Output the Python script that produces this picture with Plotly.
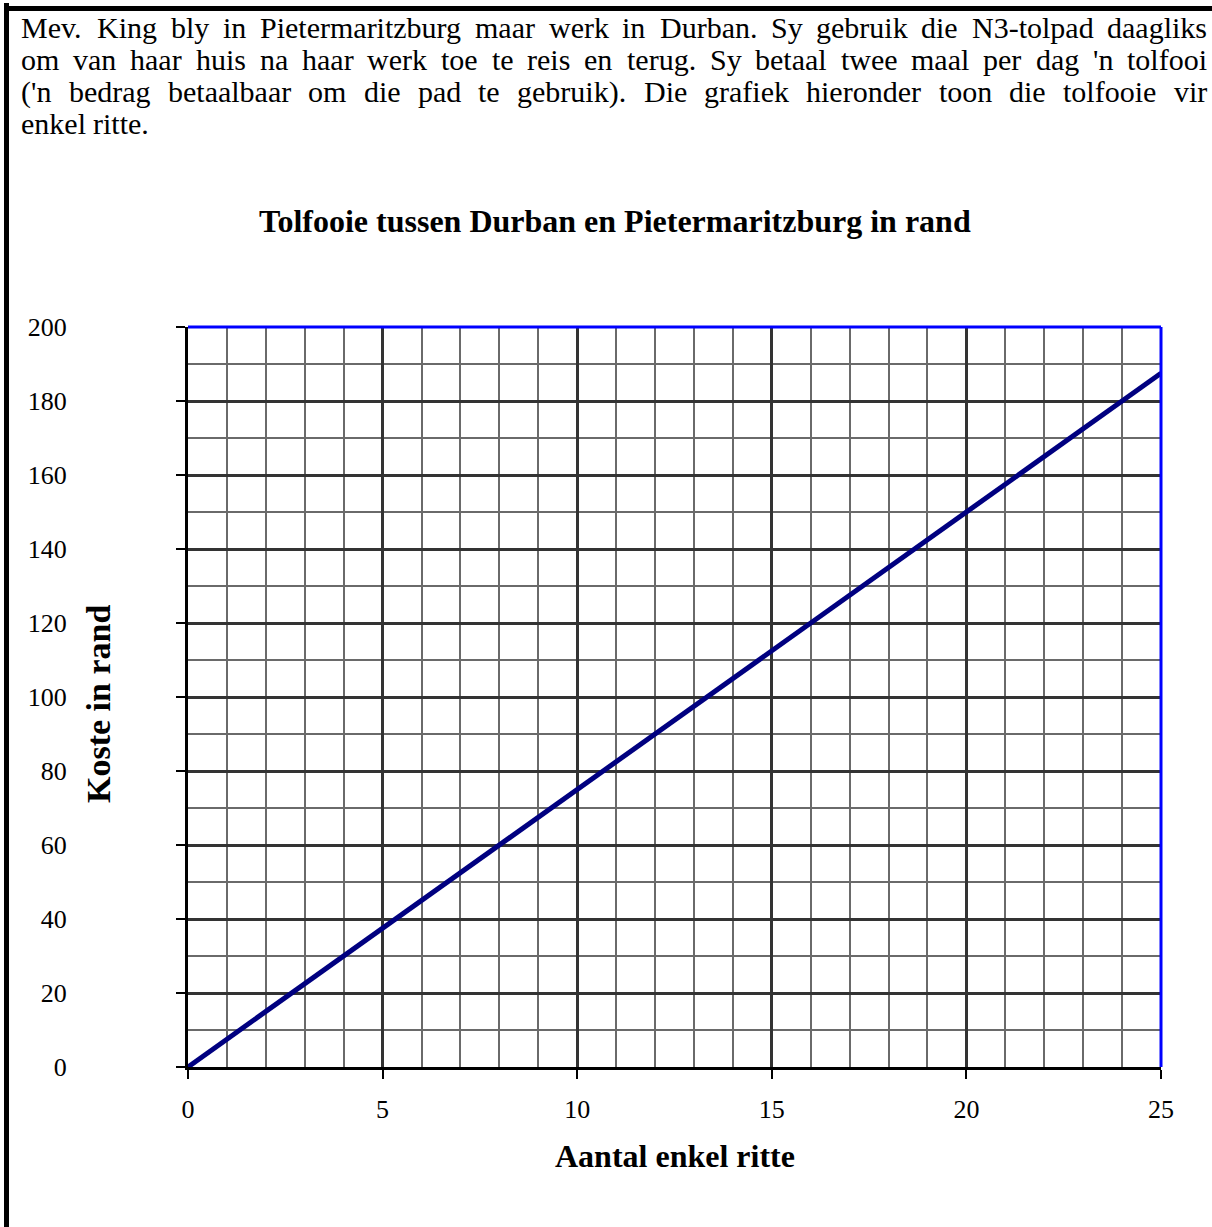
import plotly.graph_objects as go

# Toll cost against number of single trips (R7.50 per trip)
trips = [0, 25]
cost_rand = [0, 187.5]

x_tick_vals = [0, 5, 10, 15, 20, 25]
y_tick_vals = [0, 20, 40, 60, 80, 100, 120, 140, 160, 180, 200]

intro_lines = [
    "Mev. King bly in Pietermaritzburg maar werk in Durban. Sy gebruik die N3-tolpad daagliks",
    "om van haar huis na haar werk toe te reis en terug. Sy betaal twee maal per dag 'n tolfooi",
    "('n bedrag betaalbaar om die pad te gebruik). Die grafiek hieronder toon die tolfooie vir",
    "enkel ritte.",
]
chart_title = "Tolfooie tussen Durban en Pietermaritzburg in rand"
x_title = "Aantal enkel ritte"
y_title = "Koste in rand"

FONT = "Liberation Serif, Times New Roman, serif"

W, H = 1212, 1227
L, R, T, B = 188, 51, 327, 160
PW = W - L - R
PH = H - T - B


def paper_x(px):
    return (px - L) / PW


def paper_y(py):
    return (H - B - py) / PH


# Times Roman advance widths (per 1000 em) used to justify the intro paragraph
TIMES_W = {
    " ": 250, ".": 250, ",": 250, "-": 333, "'": 180, "(": 333, ")": 333,
    "0": 500, "1": 500, "2": 500, "3": 500, "4": 500, "5": 500, "6": 500,
    "7": 500, "8": 500, "9": 500,
    "A": 722, "B": 667, "C": 667, "D": 722, "E": 611, "F": 556, "G": 722,
    "H": 722, "I": 333, "J": 389, "K": 722, "L": 611, "M": 889, "N": 722,
    "O": 722, "P": 556, "Q": 722, "R": 667, "S": 556, "T": 611, "U": 722,
    "V": 722, "W": 944, "X": 722, "Y": 722, "Z": 611,
    "a": 444, "b": 500, "c": 444, "d": 500, "e": 444, "f": 333, "g": 500,
    "h": 500, "i": 278, "j": 278, "k": 500, "l": 278, "m": 778, "n": 500,
    "o": 500, "p": 500, "q": 500, "r": 333, "s": 389, "t": 278, "u": 500,
    "v": 500, "w": 722, "x": 500, "y": 500, "z": 444,
}


def text_width(s, size):
    return sum(TIMES_W.get(c, 500) for c in s) * size / 1000.0


PARA_SIZE = 30
PARA_LEFT, PARA_RIGHT = 20, 1206
PARA_BASE0, PARA_STEP = 37.5, 32.2

annotations = []
for i, line in enumerate(intro_lines):
    words = line.split(" ")
    baseline = PARA_BASE0 + i * PARA_STEP
    cy = baseline - 0.3375 * PARA_SIZE
    widths = [text_width(w, PARA_SIZE) for w in words]
    last = i == len(intro_lines) - 1
    if last or len(words) < 2:
        gap = text_width(" ", PARA_SIZE)
    else:
        gap = (PARA_RIGHT - PARA_LEFT - sum(widths)) / (len(words) - 1)
    x = PARA_LEFT
    for w, wd in zip(words, widths):
        annotations.append(dict(
            text=w, x=paper_x(x - 1), y=paper_y(cy), xref="paper", yref="paper",
            xanchor="left", yanchor="middle", showarrow=False,
            font=dict(family=FONT, size=PARA_SIZE, color="black"),
        ))
        x += wd + gap

annotations += [
    dict(text="<b>%s</b>" % chart_title, x=paper_x(615), y=paper_y(221),
         xref="paper", yref="paper", xanchor="center", yanchor="middle",
         showarrow=False, font=dict(family=FONT, size=32, color="black")),
    dict(text="<b>%s</b>" % x_title, x=paper_x(675), y=paper_y(1156),
         xref="paper", yref="paper", xanchor="center", yanchor="middle",
         showarrow=False, font=dict(family=FONT, size=32, color="black")),
    dict(text="<b>%s</b>" % y_title, x=paper_x(98), y=paper_y(704),
         xref="paper", yref="paper", xanchor="center", yanchor="middle",
         textangle=-90, showarrow=False,
         font=dict(family=FONT, size=34, color="black")),
]

shapes = [
    # page frame
    dict(type="line", xref="paper", yref="paper",
         x0=paper_x(6.5), x1=paper_x(6.5), y0=paper_y(3), y1=paper_y(1240),
         line=dict(color="black", width=5)),
    dict(type="line", xref="paper", yref="paper",
         x0=paper_x(4), x1=paper_x(1230), y0=paper_y(8.5), y1=paper_y(8.5),
         line=dict(color="black", width=5)),
    # blue top and right border of the plot area
    dict(type="line", xref="paper", yref="paper", x0=0, x1=1, y0=1, y1=1,
         line=dict(color="#0000FF", width=3)),
    dict(type="line", xref="paper", yref="paper", x0=1, x1=1, y0=0, y1=1,
         line=dict(color="#0000FF", width=3)),
]

fig = go.Figure()
fig.add_trace(go.Scatter(
    x=trips, y=cost_rand, mode="lines",
    line=dict(color="#000080", width=5),
    hoverinfo="x+y", showlegend=False,
))

fig.update_layout(
    width=W, height=H, autosize=False,
    margin=dict(l=L, r=R, t=T, b=B, pad=0),
    paper_bgcolor="white", plot_bgcolor="white",
    font=dict(family=FONT, size=26, color="black"),
    annotations=annotations, shapes=shapes,
    showlegend=False,
)

fig.update_xaxes(
    range=[0, 25], tickvals=x_tick_vals, ticktext=[str(v) for v in x_tick_vals],
    showline=True, linecolor="black", linewidth=3,
    ticks="outside", ticklen=9, tickwidth=2, tickcolor="black",
    showgrid=True, gridcolor="#333333", gridwidth=2.5,
    minor=dict(dtick=1, tick0=0, showgrid=True, gridcolor="#6a6a6a", gridwidth=1.5, ticks=""),
    zeroline=False, ticklabelstandoff=8,
    tickfont=dict(family=FONT, size=26, color="black"),
)
fig.update_yaxes(
    range=[0, 200], tickvals=y_tick_vals, ticktext=[str(v) for v in y_tick_vals],
    showline=True, linecolor="black", linewidth=3,
    ticks="outside", ticklen=9, tickwidth=2, tickcolor="black",
    showgrid=True, gridcolor="#333333", gridwidth=2.5,
    minor=dict(dtick=10, tick0=0, showgrid=True, gridcolor="#6a6a6a", gridwidth=1.8, ticks=""),
    zeroline=False, ticklabelstandoff=104,
    tickfont=dict(family=FONT, size=26, color="black"),
)

fig.write_html("out.html")
